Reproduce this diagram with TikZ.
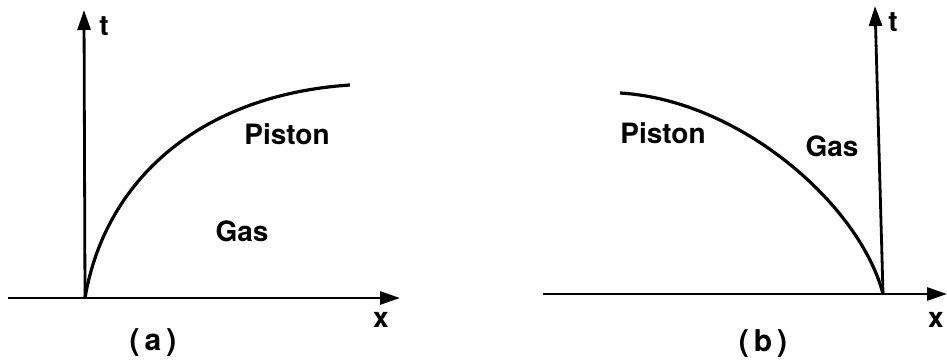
\documentclass[tikz,border=0pt]{standalone}
\usepackage{fontspec}
\setsansfont{TeX Gyre Heros}
\usetikzlibrary{arrows.meta}
\begin{document}
\begin{tikzpicture}[
  x=1pt, y=-1pt,
  axis/.style={line width=2.8pt, -{Triangle[length=20pt,width=13pt]}},
  path/.style={line width=3.2pt},
  every node/.style={font=\sffamily\bfseries\fontsize{28}{32}\selectfont},
  caption/.style={font=\sffamily\bfseries\fontsize{30}{34}\selectfont}
]
\useasboundingbox (0,0) rectangle (947,363);
% (a)
\coordinate (oa) at (85,298);
\coordinate (xa) at (400,298);
\coordinate (ta) at (84,10);
\draw[axis] (8,298) -- (xa);
\draw[axis] (oa) -- (ta);
\node (ta lab) at (104,26) {t};
\node (xa lab) at (381,320) {x};
\node (pa) at (287,134) {Piston};
\node (ga) at (242,231) {Gas};
\node[caption] (capa) at (153,343) {(\,a\,)};
\coordinate (ea) at (350,85);
\draw[path] (oa) .. controls (105,180) and (200,95) .. (ea);
% (b)
\coordinate (ob) at (883,294);
\coordinate (xb) at (947,294);
\coordinate (tb) at (875,6);
\draw[axis] (543,294) -- (xb);
\draw[axis] (ob) -- (tb);
\node (tb lab) at (893,22) {t};
\node (xb lab) at (936,320) {x};
\node (pb) at (663,133) {Piston};
\node (gb) at (832,146) {Gas};
\node[caption] (capb) at (763,344) {(\,b\,)};
\coordinate (eb) at (620,93);
\draw[path] (eb) .. controls (740,100) and (860,205) .. (ob);
\end{tikzpicture}
\end{document}
